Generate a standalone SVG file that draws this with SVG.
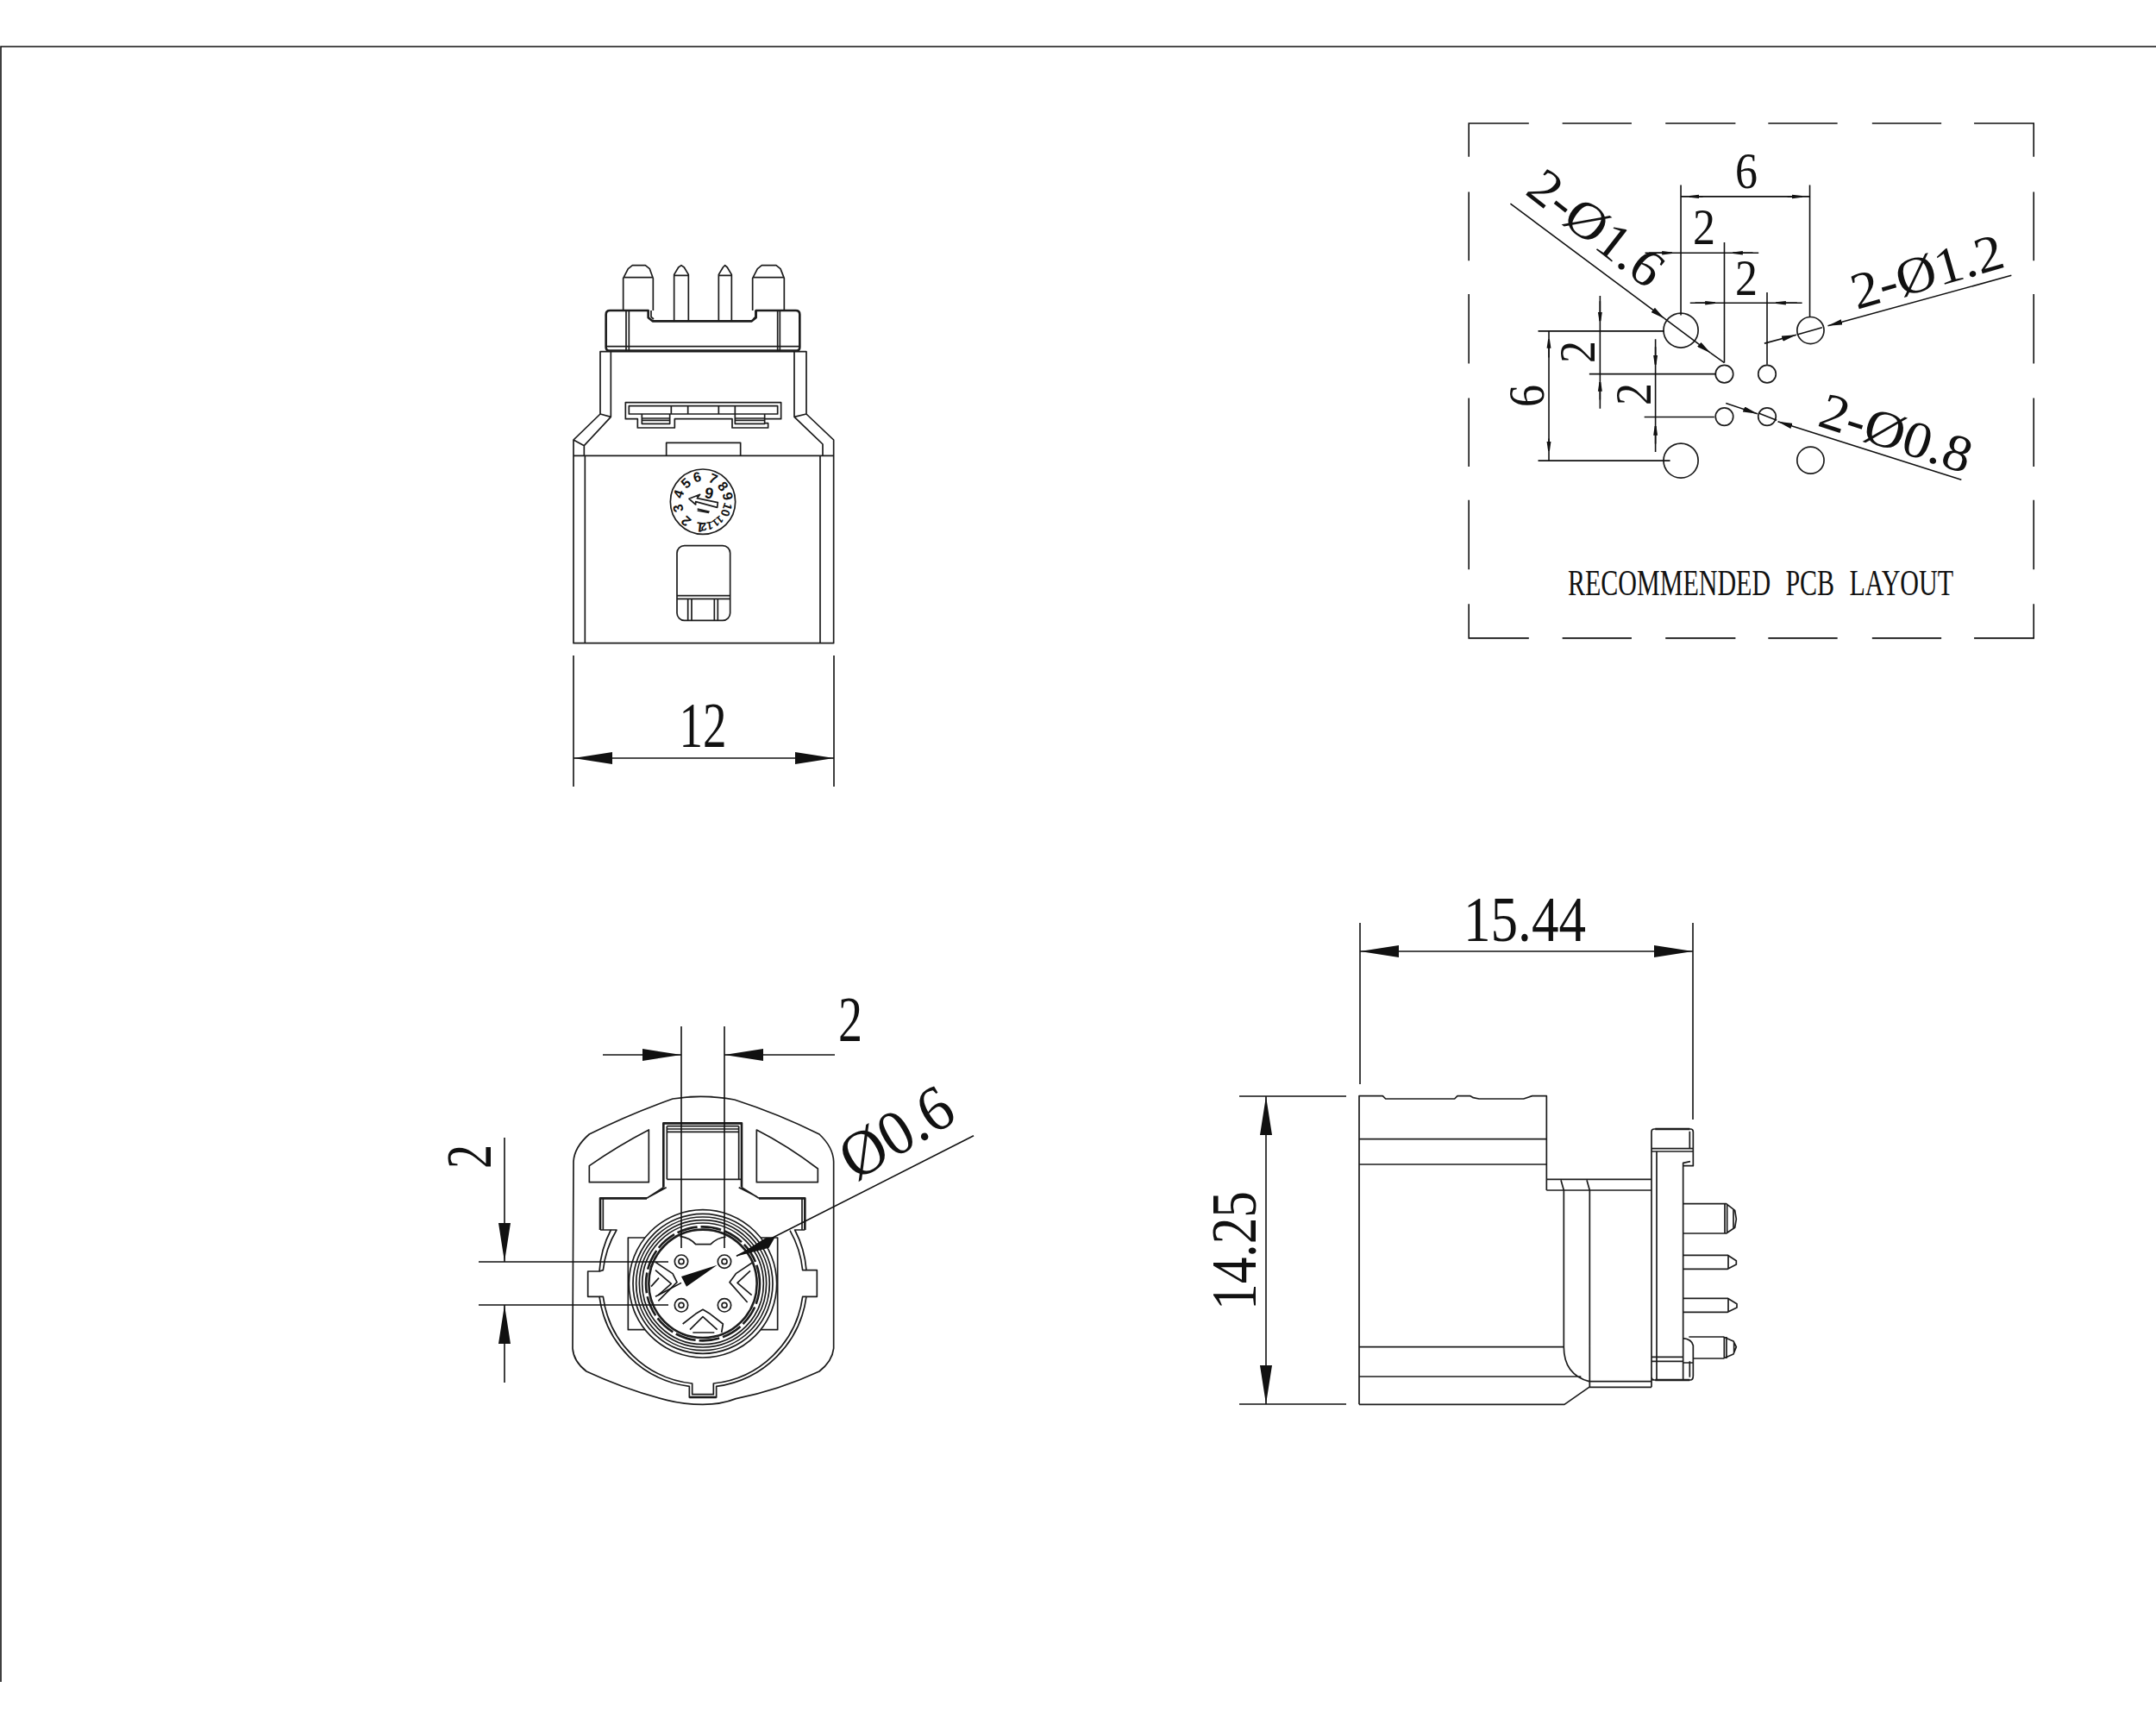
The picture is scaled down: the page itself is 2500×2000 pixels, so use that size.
<svg xmlns="http://www.w3.org/2000/svg" width="2500" height="2000" viewBox="0 0 2500 2000">
<style>
.l{fill:none;stroke:#1c1c1c;stroke-width:1.7;vector-effect:non-scaling-stroke;stroke-linejoin:round}
.w{fill:#fff;stroke:#1c1c1c;stroke-width:1.7;vector-effect:non-scaling-stroke}
.b{stroke-width:2.6}
.d{fill:none;stroke:#111;stroke-width:1.6;vector-effect:non-scaling-stroke}
.big{marker-end:url(#a45)}
.s{marker-end:url(#a25)}
.m{marker-end:url(#a38)}
text{font-family:"Liberation Serif","Times New Roman",serif;fill:#111}
.n{font-size:74px;text-anchor:middle}
.p{font-size:60px}
.dial{font-family:"Liberation Sans",Arial,sans-serif;font-size:16px;font-weight:700;text-anchor:middle}
</style>
<defs>
<marker id="a45" markerUnits="userSpaceOnUse" markerWidth="45" markerHeight="14" refX="45" refY="7" orient="auto"><path d="M0 0L45 7L0 14z" fill="#111"/></marker>
<marker id="a25" markerUnits="userSpaceOnUse" markerWidth="26" markerHeight="14" refX="26" refY="7" orient="auto"><path d="M0 1.5L26 5V9L0 12.500z" fill="#111"/></marker>
<marker id="a38" markerUnits="userSpaceOnUse" markerWidth="38" markerHeight="16" refX="38" refY="8" orient="auto"><path d="M0 0L38 8L0 16z" fill="#111"/></marker>
</defs>
<rect width="2500" height="2000" fill="#fff"/>
<path id="sheet-frame" class="d" d="M2500 54H1V1950"/>

<g id="view-top">
<g transform="translate(620 280) scale(.33333)">
<path class="l" d="M135 1397V690L228 600V383H945V600L1040 690V1397Z"/>
<path class="l" d="M135 745H1040M175 745V1397M993 745V1397M172 745V710L265 610V383M1002 745V705L903 610V383M135 690L172 710M228 600L265 610M945 600L903 610"/>
<path class="l" d="M458 745V700H716V745"/>
<path class="l" d="M316 560H857V617H800V632H812V648H687V617H487V648H358V617H316ZM328 572H845V600H328ZM475 572V600M533 572V600M640 572V600M697 572V600M373 600V634H470V600M375 615H470M375 622H470M697 600V634H800V600M697 615H800M697 622H800"/>
<path class="l b" d="M262 240H395V265L410 277H755L770 265V240H908Q922 240 922 254V368Q922 380 908 380H262Q248 380 248 368V254Q248 240 262 240Z"/>
<path class="l" d="M318 240V380M328 240V380M845 240V380M853 240V380M250 365H920M405 240V262L414 270M760 270L768 262V240"/>
<path class="l" d="M308 240V128L325 95L340 83H385L400 95L412 128V240M308 125H412M758 240V128L775 95L790 83H840L855 95L868 128V240M758 125H868"/>
<path class="l" d="M485 277V115L500 90L510 83L520 90L535 115V277M485 118H535M640 277V115L655 90L662 83L670 90L685 115V277M640 118H685"/>
<rect class="l" x="495" y="1058" width="185" height="260" rx="26"/>
<path class="l" d="M495 1232H680M495 1243H680M533 1243V1318M546 1243V1318M625 1243V1318M637 1243V1318"/>
<circle class="l" cx="585" cy="905" r="113"/>
<path class="l" d="M537 895L575 880L565 893L637 908L635 925L560 905L560 915ZM566 930L608 940M566 936L606 943"/>
</g>
<g id="date-wheel">
<text class="dial" x="815" y="558" transform="rotate(-174 815 582)">1</text>
<text class="dial" x="815" y="558" transform="rotate(-139 815 582)">2</text>
<text class="dial" x="815" y="558" transform="rotate(-104 815 582)">3</text>
<text class="dial" x="815" y="558" transform="rotate(-72 815 582)">4</text>
<text class="dial" x="815" y="558" transform="rotate(-42 815 582)">5</text>
<text class="dial" x="815" y="558" transform="rotate(-13 815 582)">6</text>
<text class="dial" x="815" y="558" transform="rotate(24 815 582)">7</text>
<text class="dial" x="815" y="558" transform="rotate(52 815 582)">8</text>
<text class="dial" x="815" y="558" transform="rotate(77 815 582)">9</text>
<text class="dial" x="815" y="558" transform="rotate(108 815 582)" style="font-size:14px">10</text>
<text class="dial" x="815" y="558" transform="rotate(142 815 582)" style="font-size:12px">11</text>
<text class="dial" x="815" y="558" transform="rotate(171 815 582)" style="font-size:13px">12</text>
<text class="dial" x="822" y="578" transform="rotate(10 823 573)" style="font-size:18px">9</text>
</g>
</g>

<g id="view-front">
<g transform="translate(640 1250) scale(.33333)">
<path class="l" d="M75 290Q78 240 130 195Q270 125 420 72Q525 55 635 75Q790 125 930 195Q978 240 980 290V940Q975 985 930 1020Q790 1085 640 1115Q590 1135 525 1135Q460 1135 400 1120Q260 1085 120 1020Q75 985 72 940Z"/>
<path class="l" d="M130 305Q230 235 337 180V362H130ZM712 180Q820 235 925 315V362H712Z"/>
<path class="l b" d="M388 380V157H660V380M168 528V418H330M720 418H880V528"/>
<path class="l" d="M400 352V167M650 352V167M400 167H650M400 177H650M400 187H650M400 352H660M398 380L340 412M650 380L712 412M388 380L330 418M660 380L720 418"/>
<path class="l" d="M178 420V528M870 420V528"/>
<path class="l" d="M168 528H205A363 363 0 0 0 165 672H125V760H165A363 363 0 0 0 478 1072V1110H572V1072A363 363 0 0 0 885 760H922V668H885A363 363 0 0 0 845 528H880"/>
<path class="l" d="M205 528H225A350 350 0 0 0 178 668L165 672M165 760H178A350 350 0 0 0 488 1062V1100H562V1062A350 350 0 0 0 872 760H885M885 668L872 668A350 350 0 0 0 828 530"/>
<path class="l b" d="M478 1110H572"/>
<rect class="l" x="265" y="555" width="520" height="320"/>
<circle class="w" cx="525" cy="715" r="257"/>
<circle class="l" cx="525" cy="715" r="243"/>
<circle class="l" cx="525" cy="715" r="232"/>
<circle class="l" cx="525" cy="715" r="221"/>
<circle class="l" cx="525" cy="715" r="211"/>
<circle class="l b" cx="525" cy="715" r="198" stroke-dasharray="24 4"/>
<circle class="l b" cx="525" cy="715" r="188"/>
<path class="l" d="M445 550Q480 555 500 578H552Q575 555 605 552"/>
<circle class="l" cx="450" cy="638" r="23"/><circle class="l" cx="450" cy="638" r="9"/>
<circle class="l" cx="600" cy="638" r="23"/><circle class="l" cx="600" cy="638" r="9"/>
<circle class="l" cx="450" cy="790" r="23"/><circle class="l" cx="450" cy="790" r="9"/>
<circle class="l" cx="600" cy="790" r="23"/><circle class="l" cx="600" cy="790" r="9"/>
<path class="l" d="M360 640L420 680L435 710L370 775M360 668L415 715L370 755M372 695L345 725M700 640L640 680L618 710L680 780M690 670L645 712L695 755M455 855L500 820L525 805L550 820L595 855L590 885M480 875L525 830L575 875M490 885H565"/>
</g>
</g>

<g id="view-side">
<g transform="translate(1550 1250) scale(.33333)">
<path class="l" d="M78 1135V62H160L170 72H410L420 62H465L475 68L495 72H650L680 62H730V390M78 212H730M78 300H730"/>
<path class="l" d="M78 1135H792L878 1075H1095M1095 352H730M730 390H1095"/>
<path class="l" d="M780 355L790 390V935Q790 1030 878 1055H1095M870 355L880 390V1075M78 935H790M78 1038H850"/>
<path class="l" d="M1105 177H1230Q1240 177 1240 187V305H1205V295L1230 290M1105 177Q1095 177 1095 187V1075M1095 245H1240M1095 255H1240M1228 185V245M1113 255V1050M1205 295V1050M1095 1040Q1095 1050 1105 1050H1230Q1240 1050 1240 1035V930Q1235 908 1205 905M1095 970H1205M1095 985H1205M1205 990H1240M1228 985V1040"/>
<path class="l b" d="M1108 177H1228M1108 1050H1228"/>
<path class="l" d="M1205 437H1355L1385 460L1390 490L1385 520L1355 540H1205M1350 437V540M1358 437V540M1380 455V525"/>
<path class="l" d="M1205 616H1360L1390 635V648L1360 664H1205M1362 616V664M1205 766H1360L1392 785V798L1360 814H1205M1362 766V814"/>
<path class="l" d="M1225 900H1345L1380 915L1390 935L1380 960L1345 975H1240M1348 900V975M1356 900V975M1382 918V955"/>
</g>
</g>

<g id="pcb-layout" transform="translate(1680 120.500) scale(.4462 .4083)">
<path class="d" id="pcb-frame" d="M52 150V55H208M295 55H475M563 55H745M830 55H1010M1100 55H1280M1365 55H1520V150M52 250V445M52 540V737M52 835V1030M52 1125V1322M52 1420V1517H208M295 1517H475M563 1517H745M830 1517H1010M1100 1517H1280M1365 1517H1520V1420M1520 250V445M1520 540V737M1520 835V1030M1520 1125V1322"/>
<g id="pcb-holes">
<ellipse class="l" cx="603" cy="643" rx="45" ry="49"/><ellipse class="l" cx="603" cy="1013" rx="45" ry="49"/>
<ellipse class="l" cx="940" cy="643" rx="35" ry="38"/><ellipse class="l" cx="940" cy="1012" rx="35" ry="38"/>
<ellipse class="l" cx="716" cy="767" rx="23" ry="25"/><ellipse class="l" cx="827" cy="767" rx="23" ry="25"/>
<ellipse class="l" cx="716" cy="888" rx="23" ry="25"/><ellipse class="l" cx="827" cy="888" rx="23" ry="25"/>
</g>
</g>

<g id="connectors">
<g id="dim-12">
<path class="d" d="M665 760V912M967 760V912"/>
<path class="d big" d="M815 879H665"/><path class="d big" d="M815 879H967"/>
</g>
<g id="dim-2-top">
<path class="d" d="M790 1190V1447M840 1190V1447"/>
<path class="d big" d="M699 1223H790"/><path class="d big" d="M968 1223H840"/>
</g>
<g id="dim-2-left">
<path class="d" d="M555 1463H775M555 1513H775"/>
<path class="d big" d="M585 1319V1463"/><path class="d big" d="M585 1603V1513"/>
</g>
<g id="dim-dia06" transform="translate(640 1250) scale(.33333)">
<path class="d" d="M1467 200L642 619"/>
<path d="M640 620L745 555L775 555L755 590Z" fill="#111"/>
<path class="d" d="M360 760L450 712"/>
<path d="M575 650L450 690L468 725Z" fill="#111"/>
</g>
<g id="dim-1544">
<path class="d" d="M1577 1070V1257M1963 1070V1298"/>
<path class="d big" d="M1770 1103H1577"/><path class="d big" d="M1770 1103H1963"/>
</g>
<g id="dim-1425">
<path class="d" d="M1437 1271H1561M1437 1628H1561"/>
<path class="d big" d="M1468 1450V1271"/><path class="d big" d="M1468 1450V1628"/>
</g>
<g id="pcb-dims" transform="translate(1680 120.500) scale(.4462 .4083)">
<path class="d" d="M603 230V600M938 230V605M716 393V735M827 535V740M232 645H560M365 767H695M508 889H690M232 1013H575"/>
<path class="d" d="M603 263H938M510 423H805M627 565H918M260 645V1013M393 545V865M537 668V988"/>
<path class="d s" d="M660 263H625"/><path class="d s" d="M880 263H918"/>
<path class="d s" d="M520 423H580"/><path class="d s" d="M790 423H738"/>
<path class="d s" d="M640 565H692"/><path class="d s" d="M905 565H850"/>
<path class="d s" d="M260 720V668"/><path class="d s" d="M260 950V985"/>
<path class="d s" d="M393 560V617"/><path class="d s" d="M393 840V790"/>
<path class="d s" d="M537 690V740"/><path class="d s" d="M537 965V915"/>
<path class="d m" d="M160 283L560 609"/><path class="d m" d="M560 609L680 707"/><path class="d" d="M680 707L716 735"/>
<path class="d m" d="M1462 487L985 630"/><path class="d" d="M905 655L970 635"/><path class="d m" d="M820 680L903 656"/>
<path class="d m" d="M1332 1067L855 902"/><path class="d" d="M805 878L852 898"/><path class="d m" d="M720 850L802 880"/>
</g>
</g>

<g id="labels">
<text class="n" x="815" y="866" textLength="55" lengthAdjust="spacingAndGlyphs">12</text>
<text class="n" x="986" y="1207" textLength="28" lengthAdjust="spacingAndGlyphs">2</text>
<text class="n" transform="translate(569 1341) rotate(-90)" textLength="28" lengthAdjust="spacingAndGlyphs">2</text>
<text class="n" transform="translate(1052 1334) rotate(-31)" textLength="140" lengthAdjust="spacingAndGlyphs">Ø0.6</text>
<text class="n" x="1768" y="1091" textLength="142" lengthAdjust="spacingAndGlyphs">15.44</text>
<text class="n" transform="translate(1456 1450) rotate(-90)" textLength="138" lengthAdjust="spacingAndGlyphs">14.25</text>
<text class="p" x="2025" y="218" text-anchor="middle" textLength="26" lengthAdjust="spacingAndGlyphs">6</text>
<text class="p" x="1976" y="283" text-anchor="middle" textLength="26" lengthAdjust="spacingAndGlyphs">2</text>
<text class="p" x="2025" y="342" text-anchor="middle" textLength="26" lengthAdjust="spacingAndGlyphs">2</text>
<text class="p" text-anchor="middle" transform="translate(1790 459) rotate(-90)" textLength="26" lengthAdjust="spacingAndGlyphs">6</text>
<text class="p" text-anchor="middle" transform="translate(1849 408) rotate(-90)" textLength="26" lengthAdjust="spacingAndGlyphs">2</text>
<text class="p" text-anchor="middle" transform="translate(1914 457) rotate(-90)" textLength="26" lengthAdjust="spacingAndGlyphs">2</text>
<text class="p" transform="translate(1767 224) rotate(38)" textLength="182" lengthAdjust="spacingAndGlyphs">2-Ø1.6</text>
<text class="p" transform="translate(2153 359) rotate(-16)" textLength="181" lengthAdjust="spacingAndGlyphs">2-Ø1.2</text>
<text class="p" transform="translate(2106 493) rotate(18)" textLength="182" lengthAdjust="spacingAndGlyphs">2-Ø0.8</text>
<text x="1818" y="690" font-size="43" word-spacing="14" textLength="447" lengthAdjust="spacingAndGlyphs">RECOMMENDED PCB LAYOUT</text>
</g>
</svg>
